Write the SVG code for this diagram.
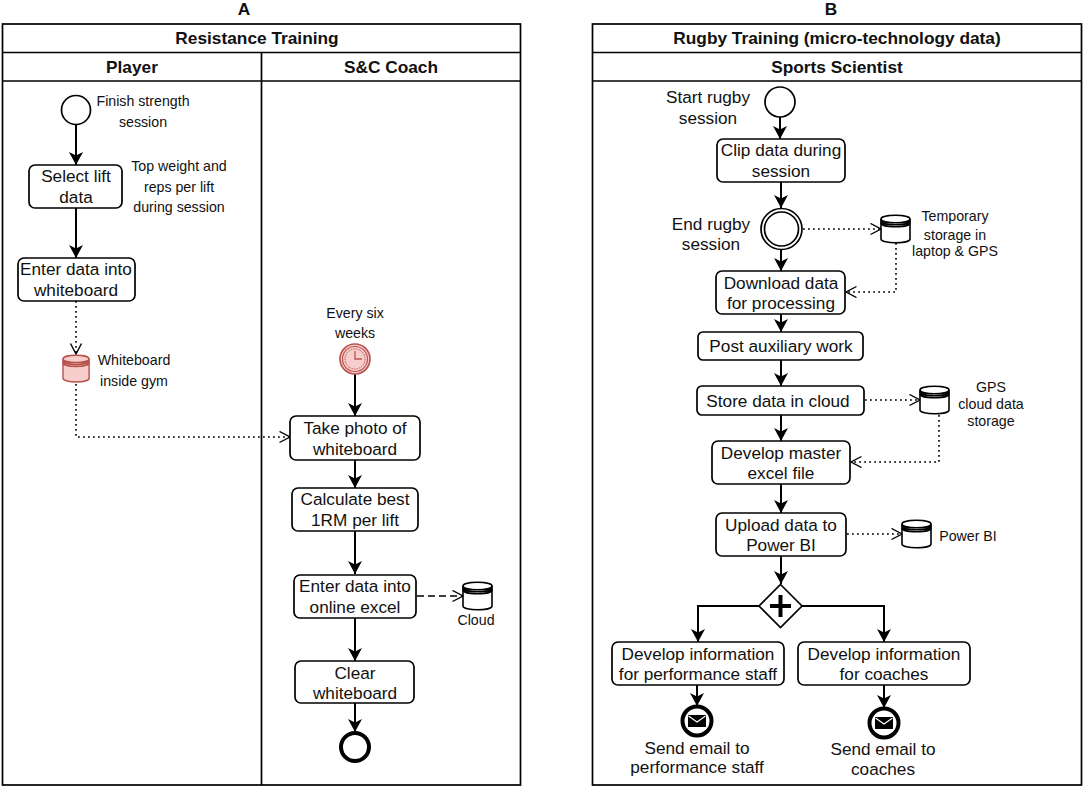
<svg xmlns="http://www.w3.org/2000/svg" width="1084" height="789" viewBox="0 0 1084 789">
<style>
text{font-family:"Liberation Sans",Arial,sans-serif;text-anchor:middle;fill:#111}
.h{font-size:17.300px;font-weight:bold}
.t{font-size:17.200px}
.s{font-size:14.200px}
.f{fill:none;stroke:#000;stroke-width:1.7}
.box{fill:#fff;stroke:#000;stroke-width:1.7}
.flow{fill:none;stroke:#000;stroke-width:2;marker-end:url(#solid)}
.dot{fill:none;stroke:#000;stroke-width:1.6;stroke-dasharray:1.8 3.2;marker-end:url(#open)}
.dash{fill:none;stroke:#000;stroke-width:1.6;stroke-dasharray:7 4;marker-end:url(#open)}
.cyl{fill:#fff;stroke:#000;stroke-width:1.6}
.cylr{fill:#f8cecc;stroke:#b85450;stroke-width:1.6}
</style>
<defs>
<marker id="solid" markerUnits="userSpaceOnUse" markerWidth="18" markerHeight="18" refX="13" refY="8" orient="auto"><path d="M0 1L13 8L0 15L3.500 8Z" fill="#000"/></marker>
<marker id="open" markerUnits="userSpaceOnUse" markerWidth="14" markerHeight="16" refX="11" refY="6" orient="auto"><path d="M0.500 0.500L11 6L0.500 11.500" fill="none" stroke="#000" stroke-width="1.400"/></marker>
<g id="cyl"><path d="M0 4C0 -1 29 -1 29 4V24C29 29 0 29 0 24Z"/><path d="M0 4C0 9 29 9 29 4M0 6C0 11 29 11 29 6M0 8C0 13 29 13 29 8" fill="none"/></g>
</defs>
<rect width="1084" height="789" fill="#fff"/>
<g id="panel-a">
<text class="h" x="244" y="15">A</text>
<rect class="f" x="2.500" y="24" width="518" height="761"/>
<path class="f" d="M2.500 52.500H520.500M2.500 81H520.500M261.500 52.500V785"/>
<text class="h" x="257" y="44">Resistance Training</text>
<text class="h" x="132" y="73">Player</text>
<text class="h" x="391" y="73">S&amp;C Coach</text>
</g>
<g id="panel-b">
<text class="h" x="831" y="15">B</text>
<rect class="f" x="592.500" y="24" width="489" height="761"/>
<path class="f" d="M592.500 52.500H1081.500M592.500 81H1081.500"/>
<text class="h" x="837" y="44">Rugby Training (micro-technology data)</text>
<text class="h" x="837" y="73">Sports Scientist</text>
</g>
<g id="connectors">
<path class="flow" d="M76 125V165"/>
<path class="flow" d="M76 208V258"/>
<path class="dot" d="M76 301V354"/>
<path class="dot" d="M76 384V437H290"/>
<path class="flow" d="M355 374V416"/>
<path class="flow" d="M355 460V488"/>
<path class="flow" d="M355 531V574"/>
<path class="dash" d="M417 596H463"/>
<path class="flow" d="M355 618V661"/>
<path class="flow" d="M355 703V732"/>
<path class="flow" d="M780 117V139"/>
<path class="flow" d="M781 182V208"/>
<path class="flow" d="M781 250V271"/>
<path class="dot" d="M803 229H881"/>
<path class="dot" d="M896 243V292H846"/>
<path class="flow" d="M781 314V332"/>
<path class="flow" d="M781 360V386"/>
<path class="dot" d="M865 400H920"/>
<path class="dot" d="M939 415V462H851"/>
<path class="flow" d="M781 415V441"/>
<path class="flow" d="M781 484V513"/>
<path class="dot" d="M847 534H902"/>
<path class="flow" d="M781 556V584"/>
<path class="flow" d="M759 606H698V642"/>
<path class="flow" d="M802 606H884V642"/>
<path class="flow" d="M697 685V706"/>
<path class="flow" d="M884 685V708"/>
</g>
<g id="start-a"><circle class="box" cx="76" cy="110" r="14.500"/><text class="s" x="143" y="106">Finish strength</text><text class="s" x="143" y="127">session</text></g>
<g id="select"><rect class="box" x="29" y="165" width="93" height="43" rx="6"/><text class="t" x="76" y="182">Select lift</text><text class="t" x="76" y="203">data</text></g>
<text class="s" x="179" y="171">Top weight and</text><text class="s" x="179" y="192">reps per lift</text><text class="s" x="179" y="212">during session</text>
<g id="enter"><rect class="box" x="18" y="258" width="117" height="43" rx="6"/><text class="t" x="76" y="275">Enter data into</text><text class="t" x="76" y="296">whiteboard</text></g>
<g id="whiteboard"><use href="#cyl" transform="translate(63 355) scale(.9 .97)" class="cylr"/><text class="s" x="134" y="365">Whiteboard</text><text class="s" x="134" y="386">inside gym</text></g>
<g id="timer"><text class="s" x="355" y="318">Every six</text><text class="s" x="355" y="338">weeks</text>
<circle cx="355" cy="359" r="15" fill="#f8cecc" stroke="#b85450" stroke-width="1.700"/><circle cx="355" cy="359" r="12.500" fill="#f8cecc" stroke="#b85450" stroke-width="1.200"/><circle cx="355" cy="359" r="10" fill="none" stroke="#b85450" stroke-width="1" stroke-dasharray="1.500 1"/><path d="M355 351V359H362" fill="none" stroke="#b85450" stroke-width="1.300"/></g>
<g id="photo"><rect class="box" x="290" y="416" width="130" height="44" rx="6"/><text class="t" x="355" y="434">Take photo of</text><text class="t" x="355" y="455">whiteboard</text></g>
<g id="calc"><rect class="box" x="292" y="488" width="126" height="43" rx="6"/><text class="t" x="355" y="505">Calculate best</text><text class="t" x="355" y="526">1RM per lift</text></g>
<g id="online"><rect class="box" x="294" y="575" width="122" height="43" rx="6"/><text class="t" x="355" y="592">Enter data into</text><text class="t" x="355" y="613">online excel</text></g>
<g id="cloud"><use href="#cyl" class="cyl" transform="translate(463 582)"/><text class="s" x="476" y="625">Cloud</text></g>
<g id="clear"><rect class="box" x="295" y="661" width="119" height="42" rx="6"/><text class="t" x="355" y="679">Clear</text><text class="t" x="355" y="699">whiteboard</text></g>
<g id="end-a"><circle cx="355" cy="747" r="14" fill="#fff" stroke="#000" stroke-width="4"/></g>
<g id="start-b"><circle class="box" cx="780" cy="102" r="15"/><text class="t" x="708" y="103">Start rugby</text><text class="t" x="708" y="124">session</text></g>
<g id="clip"><rect class="box" x="717" y="139" width="128" height="43" rx="6"/><text class="t" x="781" y="156">Clip data during</text><text class="t" x="781" y="177">session</text></g>
<g id="end-rugby"><circle class="box" cx="781.500" cy="229" r="20.500"/><circle class="box" cx="781.500" cy="229" r="17"/><text class="t" x="711" y="230">End rugby</text><text class="t" x="711" y="250">session</text></g>
<g id="temp"><use href="#cyl" class="cyl" transform="translate(881 215)"/><text class="s" x="955" y="221">Temporary</text><text class="s" x="955" y="240">storage in</text><text class="s" x="955" y="256">laptop &amp; GPS</text></g>
<g id="download"><rect class="box" x="716" y="271" width="129" height="43" rx="6"/><text class="t" x="781" y="289">Download data</text><text class="t" x="781" y="309">for processing</text></g>
<g id="post"><rect class="box" x="698" y="332" width="165" height="28" rx="5"/><text class="t" x="781" y="352">Post auxiliary work</text></g>
<g id="store"><rect class="box" x="697" y="386" width="167" height="29" rx="5"/><text class="t" x="778" y="407">Store data in cloud</text></g>
<g id="gps"><use href="#cyl" class="cyl" transform="translate(920 386)"/><text class="s" x="991" y="392">GPS</text><text class="s" x="991" y="409">cloud data</text><text class="s" x="991" y="426">storage</text></g>
<g id="master"><rect class="box" x="712" y="441" width="138" height="43" rx="6"/><text class="t" x="781" y="459">Develop master</text><text class="t" x="781" y="479">excel file</text></g>
<g id="upload"><rect class="box" x="716" y="513" width="130" height="43" rx="6"/><text class="t" x="781" y="531">Upload data to</text><text class="t" x="781" y="551">Power BI</text></g>
<g id="powerbi"><use href="#cyl" class="cyl" transform="translate(902 520)"/><text class="s" x="968" y="541">Power BI</text></g>
<g id="gateway"><path d="M780.500 584.500L802 606L780.500 627.500L759 606Z" class="box"/><path d="M780.500 595V617M770 606H791" stroke="#000" stroke-width="4" fill="none"/></g>
<g id="dev-perf"><rect class="box" x="612" y="642" width="172" height="43" rx="6"/><text class="t" x="698" y="660">Develop information</text><text class="t" x="698" y="680">for performance staff</text></g>
<g id="dev-coach"><rect class="box" x="798" y="642" width="172" height="43" rx="6"/><text class="t" x="884" y="660">Develop information</text><text class="t" x="884" y="680">for coaches</text></g>
<g id="mail-perf"><circle cx="697" cy="721" r="14.500" fill="#fff" stroke="#000" stroke-width="4"/><path d="M688 715H706V727H688Z" fill="#000"/><path d="M688.500 716L697 722L705.500 716" fill="none" stroke="#fff" stroke-width="1.200"/><text class="t" x="697" y="754">Send email to</text><text class="t" x="697" y="773">performance staff</text></g>
<g id="mail-coach"><circle cx="884" cy="723" r="14.500" fill="#fff" stroke="#000" stroke-width="4"/><path d="M875 717H893V729H875Z" fill="#000"/><path d="M875.500 718L884 724L892.500 718" fill="none" stroke="#fff" stroke-width="1.200"/><text class="t" x="883" y="755">Send email to</text><text class="t" x="883" y="775">coaches</text></g>
</svg>
